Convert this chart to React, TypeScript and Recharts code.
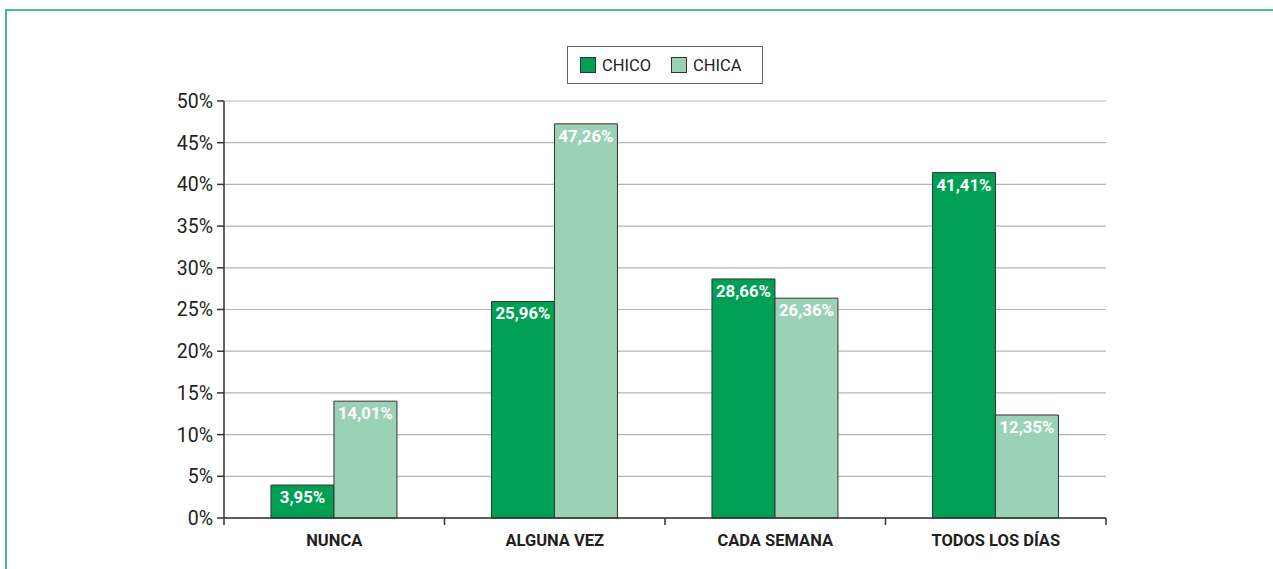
import React from 'react';
import { BarChart, Bar, XAxis, YAxis, CartesianGrid, LabelList } from 'recharts';

const categories = ['NUNCA', 'ALGUNA VEZ', 'CADA SEMANA', 'TODOS LOS DÍAS'];
const chico = [3.95, 25.96, 28.66, 41.41];
const chica = [14.01, 47.26, 26.36, 12.35];
const yTicks = [0, 5, 10, 15, 20, 25, 30, 35, 40, 45, 50];
const boundaryTicks = [0, 0.5, 1, 1.5, 2, 2.5, 3, 3.5, 4];

const data = categories.map((name, i) => ({ name, pos: i + 0.5, chico: chico[i], chica: chica[i] }));

const FONT = 'Roboto, "Noto Sans", sans-serif';
const DARK = '#00a054';
const LIGHT = '#9bd2b5';

const fmt = (v: number) => v.toFixed(2).replace('.', ',') + '%';

function BottomTick(props: any) {
  const { x, y, payload } = props;
  const v = payload.value as number;
  if (Number.isInteger(v)) {
    return <line x1={x} x2={x} y1={y} y2={y + 7} stroke="#333" strokeWidth={1.5} />;
  }
  const label = categories[Math.floor(v)];
  return (
    <text x={x} y={y + 28} textAnchor="middle" fontFamily={FONT} fontSize={16.5} fontWeight="bold" fill="#231f20">
      {label}
    </text>
  );
}

function LegendBox() {
  const item = (color: string, text: string) => (
    <div style={{ display: 'flex', alignItems: 'center', marginRight: 20 }}>
      <div style={{ width: 14, height: 14, background: color, border: '1px solid #333', marginRight: 6 }} />
      <span>{text}</span>
    </div>
  );
  return (
    <div
      style={{
        position: 'absolute',
        left: 567,
        top: 46,
        width: 196,
        height: 38,
        boxSizing: 'border-box',
        border: '1.5px solid #666',
        display: 'flex',
        alignItems: 'center',
        paddingLeft: 12,
        fontFamily: FONT,
        fontSize: 16.5,
        color: '#231f20',
      }}
    >
      {item(DARK, 'CHICO')}
      {item(LIGHT, 'CHICA')}
    </div>
  );
}

export default function App() {
  return (
    <div style={{ position: 'absolute', left: 0, top: 0, width: 1273, height: 569, overflow: 'hidden', background: '#fff' }}>
      <div
        style={{
          position: 'absolute',
          left: 5,
          top: 9,
          width: 1400,
          height: 700,
          border: '2px solid #4cb98a',
        }}
      />
      <div style={{ position: 'absolute', left: 0, top: 0 }}>
        <BarChart
          width={1273}
          height={569}
          data={data}
          margin={{ top: 101, right: 167, left: 164, bottom: 0 }}
          barCategoryGap="21.3%"
          barGap={0}
        >
          <CartesianGrid vertical={false} stroke="#b5b5b5" strokeWidth={1.2} />
          <XAxis xAxisId="cat" dataKey="name" hide />
          <XAxis
            xAxisId="b"
            type="number"
            dataKey="pos"
            domain={[0, 4]}
            allowDataOverflow
            ticks={boundaryTicks}
            interval={0}
            tickLine={false}
            tickSize={0}
            tickMargin={0}
            axisLine={{ stroke: '#333', strokeWidth: 1.5 }}
            tick={<BottomTick />}
            height={51}
          />
          <YAxis
            domain={[0, 50]}
            ticks={yTicks}
            interval={0}
            width={60}
            tickFormatter={(v) => v + '%'}
            tickSize={7}
            tickMargin={4}
            tickLine={{ stroke: '#333', strokeWidth: 1.5 }}
            axisLine={{ stroke: '#333', strokeWidth: 1.5 }}
            tick={{ fontFamily: FONT, fontSize: 19.5, fill: '#231f20' }}
          />
          <YAxis
            yAxisId="r"
            orientation="right"
            domain={[0, 50]}
            width={0}
            tick={false}
            tickLine={false}
            axisLine={{ stroke: '#333', strokeWidth: 1.5 }}
          />
          <Bar xAxisId="cat" dataKey="chico" name="CHICO" fill={DARK} stroke="#333" strokeWidth={1} isAnimationActive={false}>
            <LabelList
              dataKey="chico"
              position="insideTop"
              offset={6}
              formatter={(v: any) => fmt(Number(v))}
              style={{ fontFamily: FONT, fontSize: 16.8, fontWeight: 'bold', fill: '#fff' }}
            />
          </Bar>
          <Bar xAxisId="cat" dataKey="chica" name="CHICA" fill={LIGHT} stroke="#333" strokeWidth={1} isAnimationActive={false}>
            <LabelList
              dataKey="chica"
              position="insideTop"
              offset={6}
              formatter={(v: any) => fmt(Number(v))}
              style={{ fontFamily: FONT, fontSize: 16.8, fontWeight: 'bold', fill: '#fff' }}
            />
          </Bar>
        </BarChart>
      </div>
      <LegendBox />
    </div>
  );
}
